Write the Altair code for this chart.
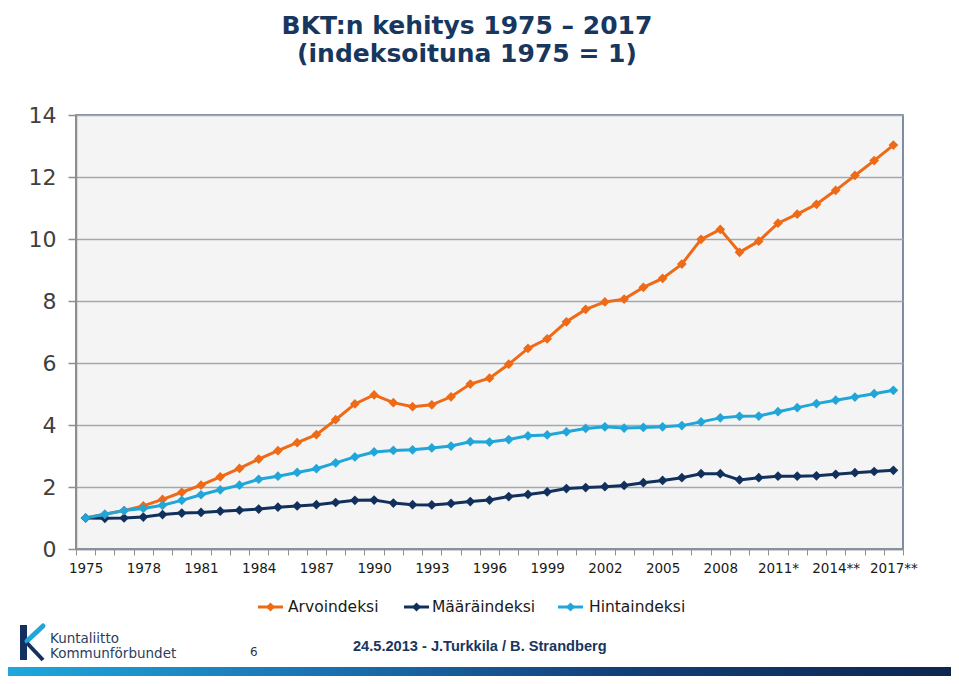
import altair as alt
import pandas as pd

# ---------------- data ----------------
years = [str(y) for y in range(1975, 2011)] + ["2011*", "2012*", "2013**", "2014**", "2015**", "2016**", "2017**"]

series_names = ["Arvoindeksi", "Määräindeksi", "Hintaindeksi"]
series_colors = ["#EE6A16", "#12305C", "#20A6D9"]

arvoindeksi = [1.00, 1.12, 1.24, 1.39, 1.60, 1.83, 2.06, 2.33, 2.60, 2.90,
               3.17, 3.43, 3.69, 4.17, 4.68, 4.97, 4.72, 4.59, 4.65, 4.91,
               5.32, 5.51, 5.96, 6.47, 6.78, 7.33, 7.73, 7.97, 8.06, 8.44,
               8.73, 9.19, 9.99, 10.31, 9.57, 9.93, 10.51, 10.80, 11.12, 11.57,
               12.05, 12.53, 13.03]
maaraindeksi = [1.00, 0.99, 1.00, 1.03, 1.11, 1.16, 1.18, 1.22, 1.25, 1.29,
                1.35, 1.39, 1.43, 1.50, 1.57, 1.58, 1.48, 1.43, 1.42, 1.47,
                1.53, 1.58, 1.69, 1.76, 1.84, 1.95, 1.98, 2.01, 2.05, 2.14,
                2.21, 2.30, 2.43, 2.43, 2.23, 2.30, 2.35, 2.35, 2.36, 2.41,
                2.46, 2.50, 2.54]
hintaindeksi = [1.00, 1.12, 1.24, 1.31, 1.41, 1.57, 1.75, 1.91, 2.06, 2.25,
                2.35, 2.47, 2.59, 2.78, 2.97, 3.13, 3.18, 3.20, 3.26, 3.32,
                3.46, 3.45, 3.53, 3.65, 3.68, 3.78, 3.89, 3.94, 3.90, 3.92,
                3.94, 3.98, 4.10, 4.23, 4.28, 4.29, 4.43, 4.56, 4.69, 4.80,
                4.90, 5.01, 5.12]

y_ticks = [0, 2, 4, 6, 8, 10, 12, 14]
title_lines = ["BKT:n kehitys 1975 – 2017", "(indeksoituna 1975 = 1)"]
footer_text = "24.5.2013 - J.Turkkila / B. Strandberg"
logo_lines = ["Kuntaliitto", "Kommunförbundet"]
page_number = "6"

rows = []
for name, vals in zip(series_names, [arvoindeksi, maaraindeksi, hintaindeksi]):
    for yr, v in zip(years, vals):
        rows.append({"year": yr, "value": v, "series": name, "order": series_names.index(name)})
df = pd.DataFrame(rows)

shown_labels = years[::3]
label_expr = "indexof(" + str(shown_labels).replace('"', "'") + ", datum.label) >= 0 ? datum.label : ''"

W, H = 827, 434
PAD = {"left": 68, "top": 107, "right": 48, "bottom": 127}

color_scale = alt.Scale(domain=series_names, range=series_colors)

x_enc = alt.X(
    "year:O", sort=years, bandPosition=0.5,
    scale=alt.Scale(type="band", paddingInner=0, paddingOuter=0),
    axis=alt.Axis(title=None, tickBand="extent", labelExpr=label_expr, labelAngle=0,
                  labelOverlap=False, labelFont="DejaVu Sans", labelFontSize=13.5,
                  labelColor="#1A1A1A", tickSize=6, tickColor="#8E8E8E", tickWidth=1,
                  domainColor="#8E8E8E", domainWidth=1.5, labelPadding=6, grid=False,
                  labelFlush=False, labelBound=False),
)
y_enc = alt.Y(
    "value:Q",
    scale=alt.Scale(domain=[0, 14], nice=False, zero=True),
    axis=alt.Axis(title=None, values=y_ticks, grid=True, gridColor="#A3A8AE", gridWidth=1.5,
                  labelFont="DejaVu Sans", labelFontSize=22, labelColor="#404040",
                  tickSize=8, tickColor="#8E8E8E", tickWidth=1.5, domainColor="#8E8E8E",
                  domainWidth=1.5, labelPadding=12),
)

base = alt.Chart(df)
lines = base.mark_line(strokeWidth=3).encode(
    x=x_enc, y=y_enc,
    color=alt.Color("series:N", scale=color_scale, legend=None),
    detail="series:N",
    order=alt.Order("order:Q"),
)
points = base.mark_point(shape="diamond", filled=True, size=95, opacity=1).encode(
    x=x_enc, y=y_enc,
    color=alt.Color("series:N", scale=color_scale, legend=None),
    order=alt.Order("order:Q"),
)

one = pd.DataFrame({"k": [0]})


def txt(text, x, y, size, color, font="DejaVu Sans", weight="normal", align="left", baseline="middle"):
    return alt.Chart(one).mark_text(
        text=text, font=font, fontSize=size, fontWeight=weight, color=color,
        align=align, baseline=baseline,
    ).encode(x=alt.value(x), y=alt.value(y))


deco = []
# title
deco.append(txt(title_lines[0], 391, -81, 25, "#17375E", weight="bold", align="center", baseline="alphabetic"))
deco.append(txt(title_lines[1], 391, -53, 25, "#17375E", weight="bold", align="center", baseline="alphabetic"))

# legend
legend_pos = [(182, 212), (328, 356), (482, 513)]
for (lx, tx), name, col in zip(legend_pos, series_names, series_colors):
    deco.append(alt.Chart(one).mark_rule(color=col, strokeWidth=3).encode(
        x=alt.value(lx), x2=alt.value(lx + 25), y=alt.value(492)))
    deco.append(alt.Chart(one).mark_point(shape="diamond", filled=True, size=80, color=col, opacity=1).encode(
        x=alt.value(lx + 12.5), y=alt.value(492)))
    deco.append(txt(name, tx, 492, 15.5, "#1A1A1A"))

# footer
deco.append(txt(page_number, 174, 537, 12, "#333333"))
deco.append(txt(footer_text, 277, 532, 14.6, "#17375E", font="Liberation Sans", weight="bold"))
deco.append(txt(logo_lines[0], -26, 524, 13.5, "#2B3E5C"))
deco.append(txt(logo_lines[1], -26, 539, 13.5, "#2B3E5C"))
# logo mark
deco.append(alt.Chart(one).mark_rect(color="#14305E").encode(
    x=alt.value(-56), x2=alt.value(-49), y=alt.value(510), y2=alt.value(545)))
deco.append(alt.Chart(one).mark_rule(color="#20A6D9", strokeWidth=5, strokeCap="round").encode(
    x=alt.value(-49), x2=alt.value(-33), y=alt.value(526), y2=alt.value(511)))
deco.append(alt.Chart(one).mark_rule(color="#14305E", strokeWidth=4).encode(
    x=alt.value(-49), x2=alt.value(-33), y=alt.value(528), y2=alt.value(545)))
# bottom band
deco.append(alt.Chart(one).mark_rect(
    color=alt.LinearGradient(gradient="linear", x1=0, x2=1, y1=0, y2=0,
                             stops=[alt.GradientStop(offset=0, color="#1EA8DD"),
                                    alt.GradientStop(offset=0.35, color="#1A6FAE"),
                                    alt.GradientStop(offset=0.65, color="#123F78"),
                                    alt.GradientStop(offset=1, color="#0D2650")])
).encode(x=alt.value(-68), x2=alt.value(875), y=alt.value(552), y2=alt.value(561)))

chart = alt.layer(lines, points, *deco).properties(
    width=W, height=H,
    padding=PAD,
    autosize=alt.AutoSizeParams(type="none"),
    background="white",
).configure_view(fill="#F4F4F4", stroke="#536B87", strokeWidth=1.5)

chart.save("out.html", embed_options={"renderer": "svg", "actions": False})
